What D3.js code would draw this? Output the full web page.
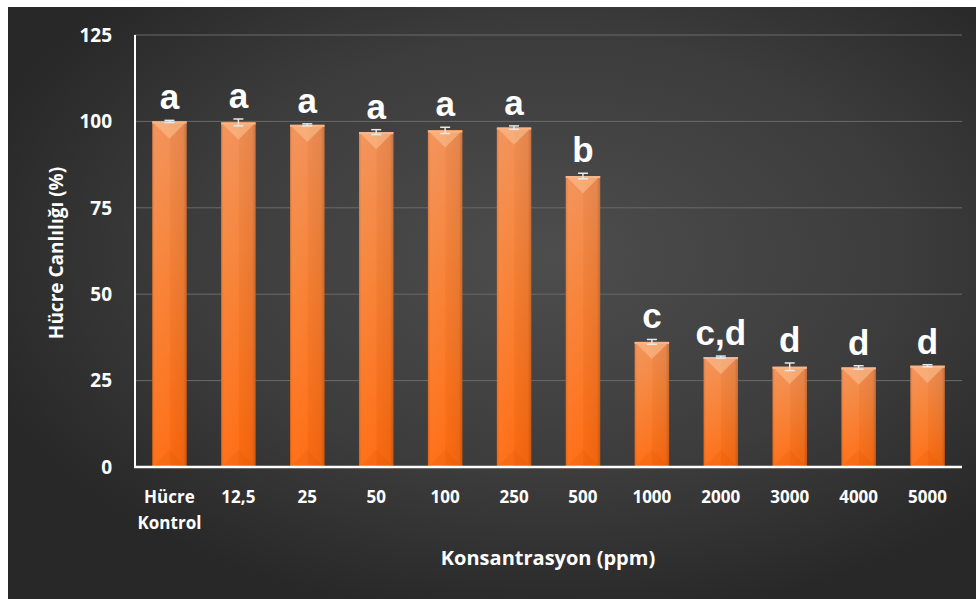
<!DOCTYPE html>
<html>
<head>
<meta charset="utf-8">
<script src="https://cdn.jsdelivr.net/npm/d3@7"></script>
<style>
  html, body { margin: 0; padding: 0; background: #ffffff; }
  svg { display: block; }
  text { font-family: "Open Sans", "Noto Sans", sans-serif; }
</style>
</head>
<body>
<svg id="chart" width="976" height="599"></svg>
<script>
// Concentration groups and their mean viability (%), standard error and significance letters
const categories = ["Hücre\nKontrol", "12,5", "25", "50", "100", "250", "500", "1000", "2000", "3000", "4000", "5000"];
const viability  = [100, 99.7, 99.0, 96.9, 97.4, 98.2, 84.2, 36.2, 31.8, 29.0, 28.8, 29.3];
const errors     = [0.3, 1.0, 0.3, 0.7, 0.9, 0.5, 0.8, 0.7, 0.3, 1.1, 0.5, 0.3];
const letters    = ["a", "a", "a", "a", "a", "a", "b", "c", "c,d", "d", "d", "d"];
const yTicks     = [0, 25, 50, 75, 100, 125];

const svg = d3.select("#chart");
const W = 976, H = 599;
const plot = { left: 135, right: 962, top: 35, bottom: 467 };

const defs = svg.append("defs");

// Dark panel background
const bg = defs.append("radialGradient").attr("id", "bgGrad")
  .attr("cx", "0.56").attr("cy", "0.42").attr("r", "0.62");
bg.append("stop").attr("offset", "0").attr("stop-color", "#4d4d4d");
bg.append("stop").attr("offset", "0.6").attr("stop-color", "#3c3c3c");
bg.append("stop").attr("offset", "1").attr("stop-color", "#282828");
svg.append("rect").attr("x", 8).attr("y", 7).attr("width", W - 8).attr("height", H - 7)
  .attr("fill", "url(#bgGrad)");

// Bar fill
const barGrad = defs.append("linearGradient").attr("id", "barGrad")
  .attr("x1", 0).attr("y1", 0).attr("x2", 0).attr("y2", 1);
barGrad.append("stop").attr("offset", "0").attr("stop-color", "#f28f55");
barGrad.append("stop").attr("offset", "0.35").attr("stop-color", "#f6843a");
barGrad.append("stop").attr("offset", "1").attr("stop-color", "#ff6a0e");

const sideGrad = defs.append("linearGradient").attr("id", "sideGrad")
  .attr("x1", 0).attr("y1", 0).attr("x2", 1).attr("y2", 0);
sideGrad.append("stop").attr("offset", "0").attr("stop-color", "#000").attr("stop-opacity", 0.12);
sideGrad.append("stop").attr("offset", "0.08").attr("stop-color", "#fff").attr("stop-opacity", 0.05);
sideGrad.append("stop").attr("offset", "0.5").attr("stop-color", "#fff").attr("stop-opacity", 0.03);
sideGrad.append("stop").attr("offset", "0.52").attr("stop-color", "#000").attr("stop-opacity", 0.02);
sideGrad.append("stop").attr("offset", "0.9").attr("stop-color", "#000").attr("stop-opacity", 0.06);
sideGrad.append("stop").attr("offset", "1").attr("stop-color", "#000").attr("stop-opacity", 0.2);

const x = d3.scaleBand().domain(categories).range([plot.left, plot.right])
  .paddingInner(0.5).paddingOuter(0.25);
const y = d3.scaleLinear().domain([0, 125]).range([plot.bottom, plot.top]);

// Gridlines
svg.append("g").selectAll("line").data(yTicks.filter(t => t > 0)).join("line")
  .attr("x1", plot.left).attr("x2", plot.right)
  .attr("y1", d => y(d)).attr("y2", d => y(d))
  .attr("stroke", "#6a6a6a").attr("stroke-width", 1);

// Bars
const bw = x.bandwidth();
const bars = svg.append("g").selectAll("g").data(categories).join("g");
bars.append("rect")
  .attr("x", d => x(d)).attr("y", (d, i) => y(viability[i]))
  .attr("width", bw).attr("height", (d, i) => y(0) - y(viability[i]))
  .attr("fill", "url(#barGrad)");
bars.append("rect")
  .attr("x", d => x(d)).attr("y", (d, i) => y(viability[i]))
  .attr("width", bw).attr("height", (d, i) => y(0) - y(viability[i]))
  .attr("fill", "url(#sideGrad)");
// bevelled top face
bars.append("polygon")
  .attr("points", (d, i) => {
    const x0 = x(d), x1 = x0 + bw, t = y(viability[i]);
    return `${x0},${t} ${x1},${t} ${x0 + bw / 2},${t + bw * 0.5}`;
  })
  .attr("fill", "#fbc08f").attr("opacity", 0.6);
bars.append("rect")
  .attr("x", d => x(d)).attr("y", (d, i) => y(viability[i]))
  .attr("width", bw).attr("height", 2)
  .attr("fill", "#f9b68a");
// bevelled bottom face
bars.append("polygon")
  .attr("points", (d, i) => {
    const x0 = x(d), x1 = x0 + bw, b = y(0);
    return `${x0},${b} ${x1},${b} ${x0 + bw / 2},${b - bw * 0.5}`;
  })
  .attr("fill", "#c84a00").attr("opacity", 0.12);

// Error bars
const eb = svg.append("g").attr("stroke", "#e8e8e8").attr("stroke-width", 1.5);
categories.forEach((c, i) => {
  const cx = x(c) + bw / 2;
  const yTop = y(viability[i] + errors[i]);
  const yBot = y(viability[i] - errors[i]);
  eb.append("line").attr("x1", cx).attr("x2", cx).attr("y1", yTop).attr("y2", yBot);
  eb.append("line").attr("x1", cx - 5).attr("x2", cx + 5).attr("y1", yTop).attr("y2", yTop);
  eb.append("line").attr("x1", cx - 5).attr("x2", cx + 5).attr("y1", yBot).attr("y2", yBot);
});

// Significance letters
svg.append("g").selectAll("text").data(categories).join("text")
  .attr("x", d => x(d) + bw / 2)
  .attr("y", (d, i) => y(viability[i] + errors[i]) - 11)
  .attr("text-anchor", "middle")
  .style("font-family", "'Liberation Sans', Arial, sans-serif")
  .attr("font-size", 35).attr("font-weight", "bold").attr("fill", "#ffffff")
  .text((d, i) => letters[i]);

// Axis lines
svg.append("line").attr("x1", plot.left).attr("x2", plot.left)
  .attr("y1", plot.top).attr("y2", plot.bottom + 1)
  .attr("stroke", "#ffffff").attr("stroke-width", 2);
svg.append("line").attr("x1", plot.left - 1).attr("x2", plot.right)
  .attr("y1", plot.bottom).attr("y2", plot.bottom)
  .attr("stroke", "#ffffff").attr("stroke-width", 2.5);

// Y tick labels
svg.append("g").selectAll("text").data(yTicks).join("text")
  .attr("x", 112).attr("y", d => y(d)).attr("dy", "0.36em")
  .attr("text-anchor", "end").attr("font-size", 19).attr("font-weight", "bold")
  .attr("fill", "#ffffff").text(d => d);

// X tick labels
const xl = svg.append("g").selectAll("text").data(categories).join("text")
  .attr("x", d => x(d) + bw / 2).attr("y", 503)
  .attr("text-anchor", "middle").attr("font-size", 17).attr("font-weight", "bold")
  .attr("fill", "#ffffff");
xl.selectAll("tspan").data(d => d.split("\n")).join("tspan")
  .attr("x", function () { return d3.select(this.parentNode).attr("x"); })
  .attr("dy", (d, i) => i === 0 ? 0 : 26)
  .text(d => d);

// Axis titles
svg.append("text")
  .attr("transform", `translate(63,${(plot.top + plot.bottom) / 2 + 2}) rotate(-90)`)
  .attr("text-anchor", "middle").attr("font-size", 19).attr("font-weight", "bold")
  .attr("fill", "#ffffff").text("Hücre Canlılığı (%)");
svg.append("text")
  .attr("x", 548).attr("y", 565)
  .attr("text-anchor", "middle").attr("font-size", 20).attr("font-weight", "bold")
  .attr("fill", "#ffffff").text("Konsantrasyon (ppm)");
</script>
</body>
</html>
